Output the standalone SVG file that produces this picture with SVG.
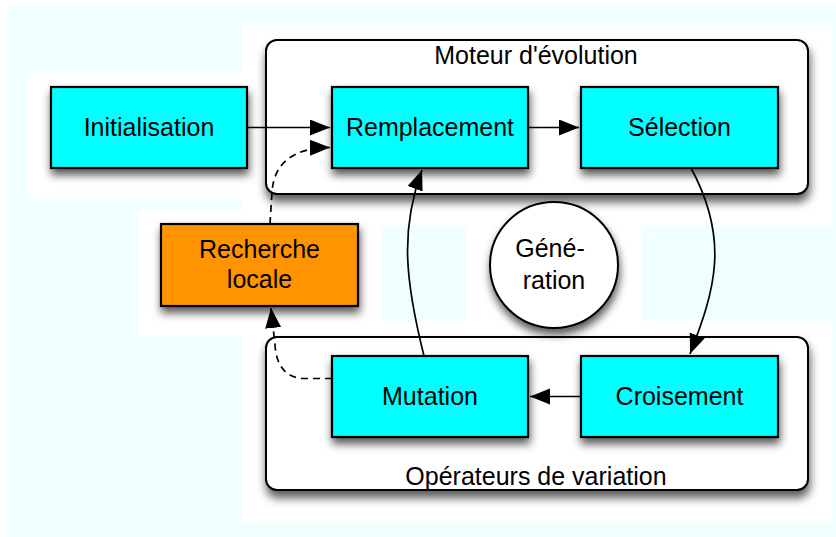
<svg xmlns="http://www.w3.org/2000/svg" width="836" height="537" viewBox="0 0 836 537">
<defs>
<style>
.box{stroke:#000;stroke-width:2.2;filter:url(#sh)}
.op{fill:#00ffff}
.ls{fill:#ff9300}
.cont{fill:#fff;stroke:#000;stroke-width:2;filter:url(#sh2)}
text{font-family:"Liberation Sans",Arial,sans-serif;font-size:25px;fill:#000;text-anchor:middle}
.edge{fill:none;stroke:#000;stroke-width:1.7;marker-end:url(#ah)}
.dash{stroke-dasharray:7 5}
</style>
<filter id="sh" x="-20%" y="-20%" width="150%" height="160%">
<feDropShadow dx="1" dy="6" stdDeviation="4" flood-color="#000" flood-opacity="0.65"/>
</filter>
<filter id="sh2" x="-10%" y="-20%" width="125%" height="150%">
<feDropShadow dx="1" dy="7" stdDeviation="5" flood-color="#000" flood-opacity="0.65"/>
</filter>
<marker id="ah" markerUnits="userSpaceOnUse" markerWidth="22" markerHeight="18" refX="20" refY="8" orient="auto">
<path d="M0,0 L20,8 L0,16 Z" fill="#000"/>
</marker>
</defs>
<g id="background">
<rect x="0" y="0" width="836" height="537" fill="#fff"/>
<rect x="8" y="6" width="828" height="531" fill="#f0ffff"/>
<rect x="242" y="25" width="590" height="497" fill="#fff"/>
<rect x="27" y="72" width="215" height="128" fill="#fff"/>
<rect x="138" y="210" width="104" height="126" fill="#fff"/>
</g>
<g id="moteur">
<rect class="cont" x="266" y="40" width="542" height="154" rx="11"/>
<text x="536" y="64">Moteur d'évolution</text>
</g>
<g id="operateurs">
<rect class="cont" x="266" y="337" width="542" height="153" rx="11"/>
<text x="536" y="485">Opérateurs de variation</text>
</g>
<g id="patches">
<rect x="382" y="226" width="84" height="95" fill="#f0ffff"/>
<rect x="642" y="226" width="190" height="95" fill="#f0ffff"/>
</g>
<g id="initialisation">
<rect class="box op" x="51" y="87" width="196" height="81"/>
<text x="149" y="136">Initialisation</text>
</g>
<g id="remplacement">
<rect class="box op" x="332" y="87" width="196" height="81"/>
<text x="430" y="136">Remplacement</text>
</g>
<g id="selection">
<rect class="box op" x="581" y="87" width="197" height="81"/>
<text x="679.5" y="136">Sélection</text>
</g>
<g id="mutation">
<rect class="box op" x="332" y="356" width="196" height="81"/>
<text x="430" y="405">Mutation</text>
</g>
<g id="croisement">
<rect class="box op" x="581" y="356" width="197" height="81"/>
<text x="679.5" y="405">Croisement</text>
</g>
<g id="recherche">
<rect class="box ls" x="161" y="224" width="197" height="82"/>
<text x="259.5" y="258">Recherche</text>
<text x="259.5" y="288">locale</text>
</g>
<g id="generation">
<ellipse cx="554" cy="265" rx="64" ry="63" fill="#fff" stroke="#000" stroke-width="2" filter="url(#sh)"/>
<text x="550" y="257">Géné-</text>
<text x="554" y="289">ration</text>
</g>
<g id="connectors">
<path class="edge" d="M247,127.5 L330,127.5"/>
<path class="edge" d="M528,127.5 L579,127.5"/>
<path class="edge" d="M581,396.5 L530,396.5"/>
<path class="edge" d="M424,356 C405,280 400,230 422,170"/>
<path class="edge" d="M691,168 C730,240 715,290 690,354"/>
<path class="edge dash" d="M270,224 L272,192 Q275,148 330,147.5"/>
<path class="edge dash" d="M332,378.5 L302,378.5 Q277,376 275,345 L271,308"/>
</g>
</svg>
